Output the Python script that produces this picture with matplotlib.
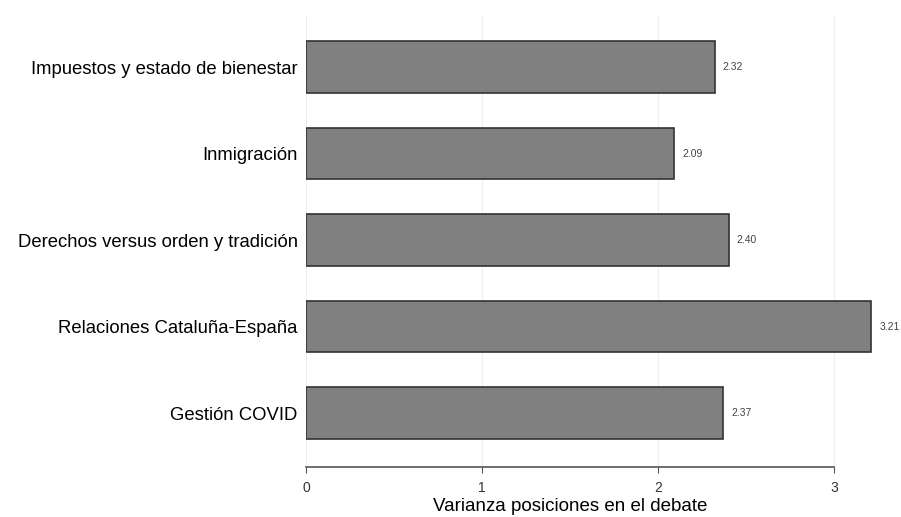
import matplotlib
matplotlib.use('Agg')
from matplotlib import pyplot as plt
import numpy as np

plt.rcParams['font.family'] = ['Liberation Sans', 'DejaVu Sans']

categories = ['Impuestos y estado de bienestar', 'Inmigración',
              'Derechos versus orden y tradición', 'Relaciones Cataluña-España',
              'Gestión COVID']
values = [2.32, 2.09, 2.40, 3.21, 2.37]
ticks = [0, 1, 2, 3]

fig = plt.figure(figsize=(9.01, 5.17), dpi=100)
ax = fig.add_axes([0.3396, 0.0967, 0.645, 0.874])

pos = np.arange(len(categories))
ax.barh(pos, values, height=0.6, color='#808080', edgecolor='#333333', linewidth=1.2, zorder=3)
for p, v in zip(pos, values):
    ax.text(v + 0.045, p, '%.2f' % v, va='center', ha='left', fontsize=7.5, color='#444444')

ax.set_ylim(4.624, -0.6)
ax.set_xlim(0, 3.3)
ax.set_yticks(pos)
ax.set_yticklabels(categories, fontsize=13.3)
ax.tick_params(axis='y', length=0, pad=6)
ax.set_xticks(ticks)
ax.set_xticklabels([str(t) for t in ticks], fontsize=10, color='#333333')
ax.tick_params(axis='x', length=4, color='#555555', pad=6)
ax.grid(axis='x', color='#eeeeee', linewidth=0.8, zorder=0)

for s in ['top', 'right', 'left']:
    ax.spines[s].set_visible(False)
ax.spines['bottom'].set_bounds(0, 3)
ax.spines['bottom'].set_color('#555555')
ax.spines['bottom'].set_linewidth(1.2)

# label centred under the 0-3 axis line, pushed to the bottom edge
ax.set_xlabel('Varianza posiciones en el debate', fontsize=13.5)
ax.xaxis.set_label_coords(1.5 / 3.3, -0.068)

fig.savefig('out.png', dpi=100)
